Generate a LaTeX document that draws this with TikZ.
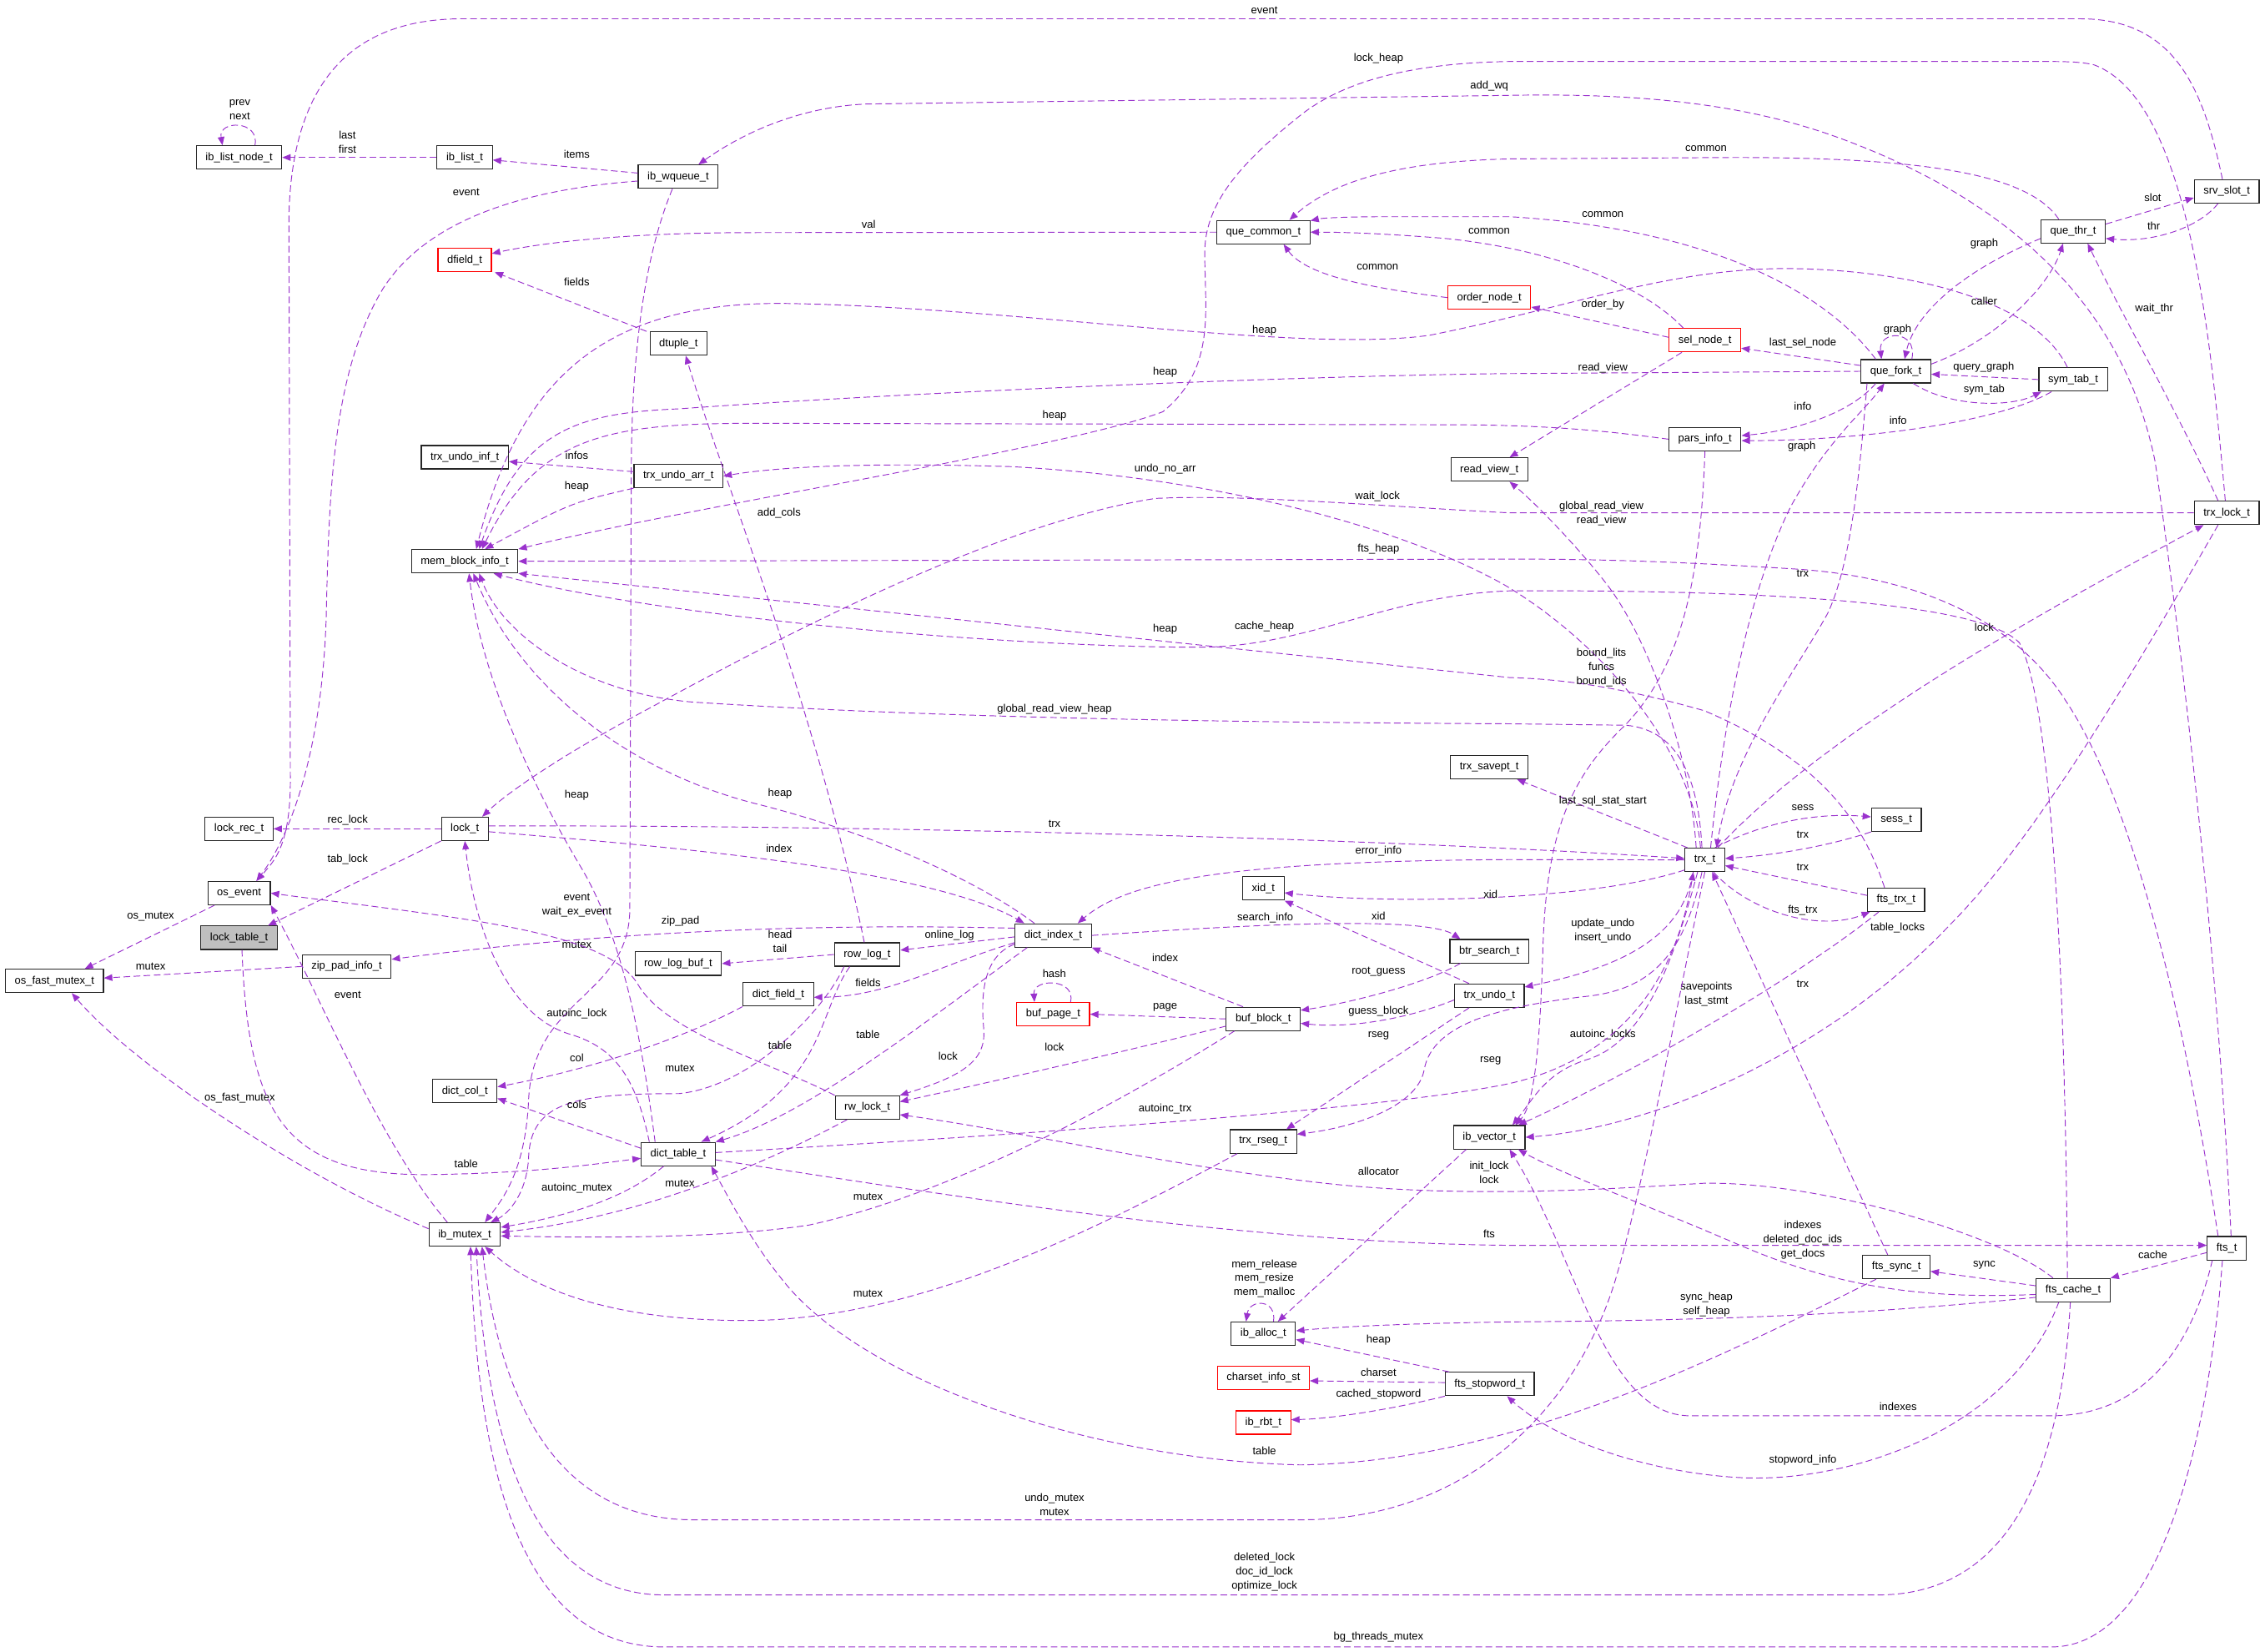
\documentclass[tikz,border=0pt]{standalone}
\usepackage{fontspec}
\setmainfont{Liberation Sans}
\usepackage{xcolor}
\usetikzlibrary{arrows.meta}
\definecolor{edgecol}{HTML}{9A32CD}
\definecolor{redbox}{HTML}{FF0000}

\begin{document}
\begin{tikzpicture}[x=1pt, y=-1pt, >={Triangle[length=5.8pt,width=4.6pt]},
    cls/.style={draw=black!85, fill=white, line width=0.65pt, minimum height=16.2pt, inner xsep=6.4pt, inner ysep=0pt, font=\fontsize{7.5}{9}\selectfont},
    undoc/.style={cls, draw=redbox},
    focus/.style={cls, fill=black!25},
    ed/.style={->, draw=edgecol, line width=0.55pt, dash pattern=on 4.6pt off 2.4pt},
    lbl/.style={font=\fontsize{7.5}{9.8}\selectfont, align=center, inner sep=0pt}]
    \useasboundingbox (0,0) rectangle (1568,1143);
    \fill[white] (0,0) rectangle (1568,1143);

    \node[cls] (ilnode) at (165.5,109) {ib\_list\_node\_t};
    \node[cls] (ilist) at (321.7,109) {ib\_list\_t};
    \node[cls] (wqueue) at (469.5,122.3) {ib\_wqueue\_t};
    \node[undoc] (dfield) at (321.7,180) {dfield\_t};
    \node[cls] (qcommon) at (874.6,160.7) {que\_common\_t};
    \node[cls] (qthr) at (1435.2,160.1) {que\_thr\_t};
    \node[cls] (srvslot) at (1541.5,132.4) {srv\_slot\_t};
    \node[undoc] (ordernode) at (1031,206) {order\_node\_t};
    \node[undoc] (selnode) at (1180.3,235.5) {sel\_node\_t};
    \node[cls] (dtuple) at (469.7,237.8) {dtuple\_t};
    \node[cls] (qfork) at (1312.5,257) {que\_fork\_t};
    \node[cls] (symtab) at (1435.2,262.7) {sym\_tab\_t};
    \node[cls] (parsinfo) at (1180.3,304) {pars\_info\_t};
    \node[cls] (undoinf) at (321.8,316.5) {trx\_undo\_inf\_t};
    \node[cls] (undoarr) at (469.7,329.5) {trx\_undo\_arr\_t};
    \node[cls] (readview) at (1031,325) {read\_view\_t};
    \node[cls] (memblock) at (321.7,388.5) {mem\_block\_info\_t};
    \node[cls] (trxlock) at (1541.5,355) {trx\_lock\_t};
    \node[cls] (savept) at (1031,531) {trx\_savept\_t};
    \node[cls] (lockrec) at (165.5,573.7) {lock\_rec\_t};
    \node[cls] (lock) at (321.8,573.7) {lock\_t};
    \node[cls] (sess) at (1312.8,567.4) {sess\_t};
    \node[cls] (trx) at (1180.2,595.2) {trx\_t};
    \node[cls] (osevent) at (165.5,618.2) {os\_event};
    \node[focus] (locktable) at (165.5,649.1) {lock\_table\_t};
    \node[cls] (osfast) at (37.7,679) {os\_fast\_mutex\_t};
    \node[cls] (zippad) at (240,669) {zip\_pad\_info\_t};
    \node[cls] (xid) at (874.6,615) {xid\_t};
    \node[cls] (ftstrx) at (1312.6,622.8) {fts\_trx\_t};
    \node[cls] (dictindex) at (729.1,647.5) {dict\_index\_t};
    \node[cls] (rowlog) at (600.3,660.7) {row\_log\_t};
    \node[cls] (rowlogbuf) at (469.5,667) {row\_log\_buf\_t};
    \node[cls] (btrsearch) at (1031,658.4) {btr\_search\_t};
    \node[cls] (undo) at (1031,689.2) {trx\_undo\_t};
    \node[cls] (dictfield) at (538.8,688.3) {dict\_field\_t};
    \node[undoc] (bufpage) at (729.1,702) {buf\_page\_t};
    \node[cls] (bufblock) at (874.5,705.3) {buf\_block\_t};
    \node[cls] (dictcol) at (321.8,755.3) {dict\_col\_t};
    \node[cls] (rwlock) at (600.4,766.6) {rw\_lock\_t};
    \node[cls] (dicttable) at (469.5,798.8) {dict\_table\_t};
    \node[cls] (rseg) at (874.5,790.1) {trx\_rseg\_t};
    \node[cls] (vector) at (1031,787.2) {ib\_vector\_t};
    \node[cls] (mutex) at (321.7,854.5) {ib\_mutex\_t};
    \node[cls] (fts) at (1541.5,864) {fts\_t};
    \node[cls] (ftssync) at (1312.8,877) {fts\_sync\_t};
    \node[cls] (ftscache) at (1435.2,893) {fts\_cache\_t};
    \node[cls] (alloc) at (874.6,923.2) {ib\_alloc\_t};
    \node[undoc] (charset) at (874.6,953.8) {charset\_info\_st};
    \node[cls] (stopword) at (1031.3,958) {fts\_stopword\_t};
    \node[undoc] (rbt) at (874.6,984.7) {ib\_rbt\_t};

    \draw[ed] ([xshift=11pt]ilnode.north) .. controls (180,83) and (151,83) .. ([xshift=-11.5pt]ilnode.north) node[lbl] at (166,76) {prev\\next};
    \draw[ed] (ilist) -- (ilnode) node[lbl] at (240.5,98.5) {last\\first};
    \draw[ed] (wqueue) -- (ilist) node[lbl] at (399.3,107) {items};
    \draw[ed] ([yshift=-3pt]wqueue.west) .. controls (380,130) and (300,145) .. (265,200) .. controls (232,255) and (228,330) .. (226,420) .. controls (224,520) and (200,580) .. ([xshift=12pt]osevent.north) node[lbl] at (322.7,133) {event};
    \draw[ed] ([xshift=-4pt]wqueue.south) .. controls (445,180) and (437,250) .. (437,330) -- (436,630) .. controls (435,690) and (370,690) .. (366,760) .. controls (364,810) and (348,830) .. ([xshift=14pt]mutex.north) node[lbl] at (399.3,654) {mutex};
    \draw[ed] (qcommon.west) -- (522,161) .. controls (440,161) and (380,167) .. ([yshift=4.5pt]dfield.east) node[lbl] at (601.3,155.2) {val};
    \draw[ed] ([xshift=-2pt]dtuple.north west) -- ([xshift=2pt]dfield.south east) node[lbl] at (399.3,195.4) {fields};

    \draw[ed] ([xshift=-4pt]symtab.north) .. controls (1410,210) and (1330,188) .. (1245,186) .. controls (1160,184) and (1090,212) .. (990,232) .. controls (900,245) and (700,212) .. (540,210) .. controls (420,210) and (360,260) .. ([xshift=8pt]memblock.north) node[lbl] at (875.3,229) {heap};
    \draw[ed] (qfork.west) -- (1045,258.6) .. controls (900,260) and (620,272) .. (470,283) .. controls (395,286) and (360,300) .. ([xshift=10pt]memblock.north) node[lbl] at (806.6,257.5) {heap};
    \draw[ed] (parsinfo.west) .. controls (1110,298) and (1070,294) .. (1000,294) -- (522,293) .. controls (420,293) and (372,302) .. ([xshift=12pt]memblock.north) node[lbl] at (730,287.7) {heap};
    \draw[ed] (undoarr.south west) .. controls (395,348) .. ([xshift=14pt]memblock.north) node[lbl] at (399.3,337) {heap};
    \draw[ed] ([yshift=3pt]undoarr.west) -- ([yshift=-3pt]undoinf.east) node[lbl] at (399.3,315) {infos};
    \draw[ed] ([xshift=-1pt]trxlock.north) .. controls (1530,230) and (1515,70) .. (1450,45) .. controls (1440,42.5) and (1430,42.5) .. (1400,42.5) -- (1050,42.5) .. controls (990,43) and (935,52) .. (900,80) .. controls (860,112) and (834,140) .. (834,175) .. controls (834,215) and (842,255) .. (805,285) .. controls (740,310) and (480,350) .. (memblock.north east) node[lbl] at (954.3,40.5) {lock\_heap};
    \draw[ed] ([xshift=-2pt]trx.north) .. controls (1176,545) and (1165,505) .. (1125,502) -- (1045,501) .. controls (850,500) and (650,497) .. (480,486) .. controls (405,480) and (348,440) .. ([xshift=10pt]memblock.south) node[lbl] at (730,491) {global\_read\_view\_heap};
    \draw[ed] ([xshift=-13pt]dictindex.north) .. controls (680,612) and (610,578) .. (522,556) .. controls (440,535) and (362,480) .. ([xshift=6pt]memblock.south) node[lbl] at (540,549.4) {heap};
    \draw[ed] ([xshift=-16pt]dicttable.north) .. controls (445,725) and (432,650) .. (402,600) .. controls (372,550) and (333,470) .. ([xshift=3pt]memblock.south) node[lbl] at (399.3,550.2) {heap};
    \draw[ed] ([xshift=-6pt]fts.north) .. controls (1515,720) and (1480,560) .. (1430,485) .. controls (1395,430) and (1330,400) .. (1245,394) .. controls (1150,388) and (1100,387) .. (1045,387) -- (memblock.east) node[lbl] at (954.3,380.3) {fts\_heap};
    \draw[ed] ([xshift=-8pt]ftstrx.north) .. controls (1290,570) and (1262,527) .. (1180,492) .. controls (1120,475) and (1080,470) .. (1045,469) -- (memblock.south east) node[lbl] at (806.6,435.8) {heap};
    \draw[ed] ([xshift=-4pt]ftscache.north) .. controls (1430,700) and (1422,490) .. (1398,445) .. controls (1375,420) and (1250,408) .. (1045,409) .. controls (960,412) and (905,448) .. (830,448) .. controls (700,448) and (460,428) .. ([xshift=20pt]memblock.south) node[lbl] at (875.3,434) {cache\_heap};

    \draw[ed] ([xshift=-3pt]srvslot.north) .. controls (1525,60) and (1505,13) .. (1440,13) -- (320,13) .. controls (245,13) and (202,55) .. (200,150) -- (201,540) .. controls (201,585) and (190,596) .. ([xshift=12pt]osevent.north) node[lbl] at (875.3,7.2) {event};
    \draw[ed] ([xshift=3pt]fts.north) .. controls (1535,650) and (1508,430) .. (1492,320) .. controls (1470,210) and (1390,140) .. (1280,98) .. controls (1220,75) and (1150,64) .. (1045,66) -- (600,72) .. controls (550,74) and (510,95) .. ([xshift=14pt]wqueue.north) node[lbl] at (1031,59.5) {add\_wq};
    \draw[ed] ([xshift=-10pt]qthr.north) .. controls (1405,122) and (1340,109) .. (1200,109) -- (1045,110) .. controls (960,112) and (920,128) .. ([xshift=18pt]qcommon.north) node[lbl] at (1181,103) {common};
    \draw[ed] ([xshift=-14pt]qfork.north) .. controls (1262,200) and (1180,158) .. (1045,150) -- (960,150) .. controls (930,150) and (915,151) .. ([yshift=-0.5pt]qcommon.north east) node[lbl] at (1109.6,148.5) {common};
    \draw[ed] ([xshift=-15pt]selnode.north) .. controls (1140,200) and (1080,173) .. (1000,165) .. controls (950,161) and (925,160.7) .. (qcommon.east) node[lbl] at (1030.9,159.8) {common};
    \draw[ed] (ordernode.west) .. controls (955,200) and (905,192) .. ([xshift=14pt]qcommon.south) node[lbl] at (953.6,185) {common};
    \draw[ed] ([yshift=5pt]qthr.east) -- ([yshift=-4.5pt]srvslot.west) node[lbl] at (1490.3,136.6) {slot};
    \draw[ed] ([xshift=-6pt]srvslot.south) .. controls (1522,158) and (1490,168) .. ([yshift=-5pt]qthr.east) node[lbl] at (1491,156.7) {thr};
    \draw[ed] ([yshift=-5pt]qthr.west) .. controls (1362,186) and (1326,215) .. ([xshift=6pt]qfork.north) node[lbl] at (1373.6,169) {graph};
    \draw[ed] ([xshift=11pt]qfork.north) .. controls (1328,228) and (1300,228) .. ([xshift=-10pt]qfork.north) node[lbl] at (1313.6,228) {graph};
    \draw[ed] ([yshift=5pt]qfork.east) .. controls (1380,236) and (1418,200) .. ([xshift=-7pt]qthr.south) node[lbl] at (1373.6,208.3) {caller};
    \draw[ed] ([xshift=-6pt]trxlock.north) .. controls (1510,290) and (1470,220) .. ([xshift=10pt]qthr.south) node[lbl] at (1491.3,214) {wait\_thr};
    \draw[ed] (symtab.west) -- ([yshift=-2pt]qfork.east) node[lbl] at (1373.3,254) {query\_graph};
    \draw[ed] ([xshift=12pt]qfork.south) .. controls (1350,282) and (1392,282) .. ([xshift=-22pt]symtab.south) node[lbl] at (1373.6,270) {sym\_tab};
    \draw[ed] ([yshift=4pt]qfork.west) -- ([yshift=-5.5pt]selnode.east) node[lbl] at (1248,237.7) {last\_sel\_node};
    \draw[ed] ([yshift=2pt]selnode.west) -- ([yshift=-6.5pt]ordernode.east) node[lbl] at (1109.6,210.6) {order\_by};
    \draw[ed] ([xshift=-16pt]selnode.south) -- ([xshift=14pt]readview.north) node[lbl] at (1109.6,254.5) {read\_view};
    \draw[ed] ([xshift=-14pt]qfork.south) .. controls (1282,285) and (1245,298) .. ([yshift=2.5pt]parsinfo.east) node[lbl] at (1248,281) {info};
    \draw[ed] ([xshift=-15pt]symtab.south) .. controls (1385,292) and (1290,305) .. ([yshift=-1pt]parsinfo.east) node[lbl] at (1314,290.8) {info};
    \draw[ed] ([xshift=4pt]trx.north) .. controls (1195,480) and (1215,400) .. (1240,350) .. controls (1265,305) and (1290,285) .. ([xshift=-8pt]qfork.south) node[lbl] at (1247.3,308.9) {graph};
    \draw[ed] ([xshift=-20pt]qfork.south) .. controls (1288,320) and (1282,390) .. (1265,425) .. controls (1240,470) and (1200,520) .. ([xshift=8pt]trx.north) node[lbl] at (1248,397) {trx};
    \draw[ed] ([xshift=-6pt]trx.north) .. controls (1170,520) and (1140,440) .. (1112,404) .. controls (1095,382) and (1065,350) .. ([xshift=14pt]readview.south) node[lbl] at (1108.6,355.5) {global\_read\_view\\read\_view};
    \draw[ed] (trxlock.west) -- (1045,355) .. controls (950,350) and (860,342) .. (800,345) .. controls (700,360) and (560,430) .. (450,490) .. controls (390,522) and (352,548) .. ([xshift=12pt]lock.north) node[lbl] at (953.6,343.6) {wait\_lock};
    \draw[ed] ([xshift=-3pt]trx.north) .. controls (1172,520) and (1110,445) .. (1040,404) .. controls (960,360) and (830,330) .. (700,323) .. controls (600,320) and (540,323) .. (undoarr.east) node[lbl] at (806.6,324.8) {undo\_no\_arr};
    \draw[ed] (parsinfo.south) .. controls (1177,400) and (1165,460) .. (1125,502) .. controls (1085,540) and (1070,580) .. (1068,660) .. controls (1066,725) and (1062,765) .. ([xshift=18pt]vector.north) node[lbl] at (1108.6,461.8) {bound\_lits\\funcs\\bound\_ids};
    \draw[ed] ([xshift=9pt]trx.north) .. controls (1265,505) and (1420,420) .. ([xshift=-16pt]trxlock.south) node[lbl] at (1373.6,434) {lock};

    \draw[ed] ([yshift=2pt]lock.east) .. controls (600,571) and (950,580) .. ([yshift=1pt]trx.west) node[lbl] at (730,570) {trx};
    \draw[ed] ([yshift=-2pt]lock.east) .. controls (450,585) and (640,600) .. ([xshift=-20pt]dictindex.north) node[lbl] at (539.3,587.1) {index};
    \draw[ed] (trx.west) -- (1045,595) .. controls (850,596) and (780,610) .. ([xshift=17pt]dictindex.north) node[lbl] at (954.3,589.4) {error\_info};
    \draw[ed] ([xshift=2pt]trx.north west) -- ([xshift=-8pt]savept.south east) node[lbl] at (1109.6,554.3) {last\_sql\_stat\_start};
    \draw[ed] ([xshift=7pt]trx.north) .. controls (1215,572) and (1252,562) .. ([yshift=2pt]sess.west) node[lbl] at (1248,559) {sess};
    \draw[ed] (sess.south west) .. controls (1268,585) and (1230,592) .. ([yshift=1pt]trx.east) node[lbl] at (1248,577.8) {trx};
    \draw[ed] ([yshift=3pt]ftstrx.west) -- ([yshift=-4pt]trx.east) node[lbl] at (1248,600.2) {trx};
    \draw[ed] ([xshift=6pt]trx.south) .. controls (1212,632) and (1260,645) .. ([xshift=2pt]ftstrx.south west) node[lbl] at (1248,630.4) {fts\_trx};
    \draw[ed] ([yshift=-7pt]trx.west) .. controls (1100,624) and (960,626) .. ([yshift=-3pt]xid.east) node[lbl] at (1031.9,618.8) {xid};
    \draw[ed] ([xshift=-6pt]ftssync.north) -- ([xshift=5pt]trx.south) node[lbl] at (1248,681) {trx};
    \draw[ed] ([xshift=-6pt]trxlock.south) .. controls (1480,460) and (1410,580) .. (1350,640) .. controls (1270,725) and (1150,780) .. (vector.east) node[lbl] at (1313.6,642.3) {table\_locks};
    \draw[ed] ([xshift=-12pt]ftstrx.south) .. controls (1240,680) and (1120,748) .. ([xshift=20pt]vector.north) node[lbl] at (1181.3,688) {savepoints\\last\_stmt};
    \draw[ed] ([xshift=-5pt]trx.south) .. controls (1160,660) and (1140,720) .. (1100,733) .. controls (1070,742) and (1062,760) .. ([xshift=16pt]vector.north) node[lbl] at (1109.6,716.3) {autoinc\_locks};
    \draw[ed] ([xshift=-8pt]trx.south) .. controls (1165,645) and (1130,668) .. ([yshift=6pt]undo.east) node[lbl] at (1109.6,644.5) {update\_undo\\insert\_undo};
    \draw[ed] ([xshift=-2pt]trx.south) .. controls (1165,665) and (1140,686) .. (1095,690) .. controls (1040,697) and (992,708) .. (986,740) .. controls (982,765) and (940,780) .. ([yshift=5pt]rseg.east) node[lbl] at (1031.9,734.5) {rseg};
    \draw[ed] (trx.south) .. controls (1160,700) and (1140,810) .. (1120,880) .. controls (1095,970) and (1020,1052) .. (900,1052) -- (480,1052) .. controls (380,1052) and (345,960) .. ([xshift=12pt]mutex.south) node[lbl] at (730,1041.6) {undo\_mutex\\mutex};
    \draw[ed] ([yshift=1pt]dicttable.east) .. controls (700,786) and (960,768) .. (1045,750) .. controls (1120,733) and (1160,680) .. ([xshift=-8pt]trx.south) node[lbl] at (806.6,767.5) {autoinc\_trx};

    \draw[ed] ([xshift=-14pt]undo.south) -- ([xshift=16pt]rseg.north) node[lbl] at (954.3,716.7) {rseg};
    \draw[ed] ([xshift=-14pt]undo.north) -- (xid.south east) node[lbl] at (954.3,634.2) {xid};
    \draw[ed] ([yshift=-3pt]undo.west) .. controls (975,705) and (935,712) .. ([yshift=-3pt]bufblock.east) node[lbl] at (954.3,700.2) {guess\_block};
    \draw[ed] ([xshift=-20pt]btrsearch.south) .. controls (985,682) and (930,695) .. ([yshift=6pt]bufblock.east) node[lbl] at (954.3,672.4) {root\_guess};
    \draw[ed] (dictindex.east) .. controls (850,641) and (985,633) .. ([xshift=-20pt]btrsearch.north) node[lbl] at (875.9,635.6) {search\_info};
    \draw[ed] (bufblock.west) -- (bufpage.east) node[lbl] at (806.6,697.4) {page};
    \draw[ed] ([xshift=12pt]bufpage.north) .. controls (745,677) and (715,677) .. ([xshift=-13pt]bufpage.north) node[lbl] at (729.9,673.9) {hash};
    \draw[ed] ([xshift=-14pt]bufblock.north) -- (dictindex.south east) node[lbl] at (806.6,663) {index};
    \draw[ed] ([yshift=-5pt]bufblock.west) .. controls (790,725) and (700,746) .. ([yshift=4pt]rwlock.east) node[lbl] at (729.9,725) {lock};
    \draw[ed] ([yshift=-6pt]dictindex.west) .. controls (680,662) and (679,690) .. (681,712) .. controls (683,735) and (665,745) .. (rwlock.north east) node[lbl] at (656.3,731.3) {lock};
    \draw[ed] ([xshift=-20pt]bufblock.south) .. controls (780,760) and (665,825) .. (560,848) .. controls (500,857) and (420,857) .. ([yshift=-1pt]mutex.east) node[lbl] at (600.9,828.6) {mutex};
    \draw[ed] ([xshift=-14pt]rwlock.south) .. controls (540,800) and (450,842) .. ([yshift=1.5pt]mutex.east) node[lbl] at (470.7,819.3) {mutex};
    \draw[ed] ([xshift=-18pt]rseg.south) .. controls (760,850) and (640,912) .. (522,914) .. controls (430,915) and (372,895) .. ([xshift=14pt]mutex.south) node[lbl] at (600.9,895.5) {mutex};
    \draw[ed] ([xshift=-16pt]rowlog.south) .. controls (570,700) and (520,752) .. (470,757) .. controls (400,757) and (368,762) .. (366,800) .. controls (365,826) and (352,840) .. ([xshift=18pt]mutex.north) node[lbl] at (470.7,739.4) {mutex};
    \draw[ed] (rwlock.north west) .. controls (540,738) and (462,716) .. (442,682) .. controls (428,658) and (385,645) .. (300,633) .. controls (250,626) and (215,622) .. (osevent.east) node[lbl] at (399.3,626.8) {event\\wait\_ex\_event};
    \draw[ed] ([yshift=5pt]dictindex.west) .. controls (600,640) and (450,641) .. ([yshift=5pt]zippad.east) node[lbl] at (471,637.4) {zip\_pad};
    \draw[ed] (zippad.west) -- ([yshift=2pt]osfast.east) node[lbl] at (104.3,669) {mutex};
    \draw[ed] ([xshift=-17pt]osevent.south) -- ([xshift=21pt]osfast.north) node[lbl] at (104.3,634.5) {os\_mutex};
    \draw[ed] ([yshift=4pt]mutex.west) .. controls (210,815) and (95,740) .. ([xshift=12pt]osfast.south) node[lbl] at (166,760.3) {os\_fast\_mutex};
    \draw[ed] ([xshift=-12pt]mutex.north) .. controls (262,790) and (222,690) .. ([xshift=22pt]osevent.south) node[lbl] at (240.7,688.7) {event};
    \draw[ed] ([xshift=2pt]locktable.south) .. controls (172,770) and (195,815) .. (300,813) .. controls (370,812) and (410,806) .. ([yshift=-3pt]dicttable.west) node[lbl] at (322.7,805.3) {table};
    \draw[ed] (lock) -- (lockrec) node[lbl] at (240.7,567.5) {rec\_lock};
    \draw[ed] (lock.south west) -- ([xshift=20pt]locktable.north) node[lbl] at (240.7,595) {tab\_lock};
    \draw[ed] ([xshift=-20pt]dicttable.north) .. controls (440,745) and (425,725) .. (395,716) .. controls (350,703) and (328,640) .. (lock.south) node[lbl] at (399.3,701.6) {autoinc\_lock};
    \draw[ed] ([yshift=4pt]dicttable.west) -- ([yshift=-5pt]dictcol.east) node[lbl] at (399.3,764.7) {cols};
    \draw[ed] (dictfield.south west) .. controls (480,715) and (420,738) .. ([yshift=3pt]dictcol.east) node[lbl] at (399.3,732) {col};
    \draw[ed] ([yshift=-5pt]dictindex.west) .. controls (650,668) and (615,690) .. ([yshift=-2pt]dictfield.east) node[lbl] at (600.9,680.4) {fields};
    \draw[ed] ([yshift=-1pt]dictindex.west) -- ([yshift=3pt]rowlog.east) node[lbl] at (657.3,647.5) {online\_log};
    \draw[ed] (rowlog.west) -- (rowlogbuf.east) node[lbl] at (540,651.5) {head\\tail};
    \draw[ed] ([xshift=-2pt]rowlog.north) .. controls (565,490) and (500,330) .. ([xshift=5pt]dtuple.south) node[lbl] at (539.3,355.3) {add\_cols};
    \draw[ed] ([xshift=-18pt]dictindex.south) .. controls (650,700) and (560,772) .. (dicttable.north east) node[lbl] at (600.9,716.2) {table};
    \draw[ed] ([xshift=-12pt]rowlog.south) .. controls (566,700) and (572,752) .. ([xshift=16pt]dicttable.north) node[lbl] at (540,723.5) {table};
    \draw[ed] ([xshift=-10pt]dicttable.south) .. controls (432,830) and (392,842) .. ([yshift=5pt]mutex.east) node[lbl] at (399.3,822.5) {autoinc\_mutex};
    \draw[ed] ([yshift=-4pt]dicttable.east) .. controls (650,826) and (850,860) .. (1045,862) -- ([yshift=2pt]fts.west) node[lbl] at (1030.9,854) {fts};

    \draw[ed] ([yshift=-3pt]ftscache.west) .. controls (1320,900) and (1262,887) .. (1200,860) .. controls (1130,830) and (1080,812) .. ([xshift=20pt]vector.south) node[lbl] at (1248,858.4) {indexes\\deleted\_doc\_ids\\get\_docs};
    \draw[ed] ([yshift=-3pt]fts.west) -- (ftscache.north east) node[lbl] at (1490.3,868.4) {cache};
    \draw[ed] ([yshift=3pt]ftscache.west) -- ([yshift=-3pt]ftssync.east) node[lbl] at (1373.6,876) {sync};
    \draw[ed] ([yshift=-5pt]ftscache.west) .. controls (1300,909) and (1200,914) .. (1045,915) .. controls (980,916) and (930,918) .. ([yshift=2pt]alloc.east) node[lbl] at (1181.3,903) {sync\_heap\\self\_heap};
    \draw[ed] ([xshift=-14pt]ftscache.north) .. controls (1385,855) and (1262,818) .. (1180,819) .. controls (1100,824) and (1000,830) .. (900,817) .. controls (800,805) and (700,782) .. ([yshift=-5pt]rwlock.east) node[lbl] at (1030.9,811.8) {init\_lock\\lock};
    \draw[ed] ([xshift=-2pt]ftscache.south) .. controls (1428,1000) and (1400,1104) .. (1300,1104) -- (460,1104) .. controls (362,1104) and (336,985) .. ([xshift=8pt]mutex.south) node[lbl] at (875.3,1088.2) {deleted\_lock\\doc\_id\_lock\\optimize\_lock};
    \draw[ed] ([xshift=-3pt]fts.south) .. controls (1532,960) and (1505,1140) .. (1420,1140) -- (460,1140) .. controls (350,1140) and (330,990) .. ([xshift=4pt]mutex.south) node[lbl] at (954.3,1133) {bg\_threads\_mutex};
    \draw[ed] ([xshift=-10pt]fts.south) .. controls (1518,930) and (1485,980) .. (1420,980) -- (1170,980) .. controls (1110,980) and (1092,870) .. ([xshift=14pt]vector.south) node[lbl] at (1314,973.5) {indexes};
    \draw[ed] ([xshift=-10pt]ftscache.south) .. controls (1392,990) and (1282,1025) .. (1210,1023) .. controls (1150,1021) and (1080,1000) .. ([xshift=12pt]stopword.south) node[lbl] at (1248,1010.8) {stopword\_info};
    \draw[ed] ([xshift=3pt]stopword.north west) -- ([yshift=-4pt]alloc.east) node[lbl] at (954.3,927.8) {heap};
    \draw[ed] ([yshift=1pt]stopword.west) -- ([yshift=-2pt]charset.east) node[lbl] at (954.3,950) {charset};
    \draw[ed] (stopword.south west) .. controls (970,974) and (925,982) .. ([yshift=2pt]rbt.east) node[lbl] at (954.3,965.2) {cached\_stopword};
    \draw[ed] ([xshift=-16pt]vector.south) -- ([xshift=10pt]alloc.north) node[lbl] at (954.3,811) {allocator};
    \draw[ed] ([xshift=7pt]alloc.north) .. controls (884,899) and (865,899) .. ([xshift=-12pt]alloc.north) node[lbl] at (875.3,885.1) {mem\_release\\mem\_resize\\mem\_malloc};
    \draw[ed] ([xshift=-14pt]ftssync.south) .. controls (1200,935) and (1050,1012) .. (900,1014) .. controls (750,1010) and (600,955) .. (545,890) .. controls (520,860) and (505,830) .. ([xshift=-3pt]dicttable.south east) node[lbl] at (875.3,1004.3) {table};
\end{tikzpicture}
\end{document}
